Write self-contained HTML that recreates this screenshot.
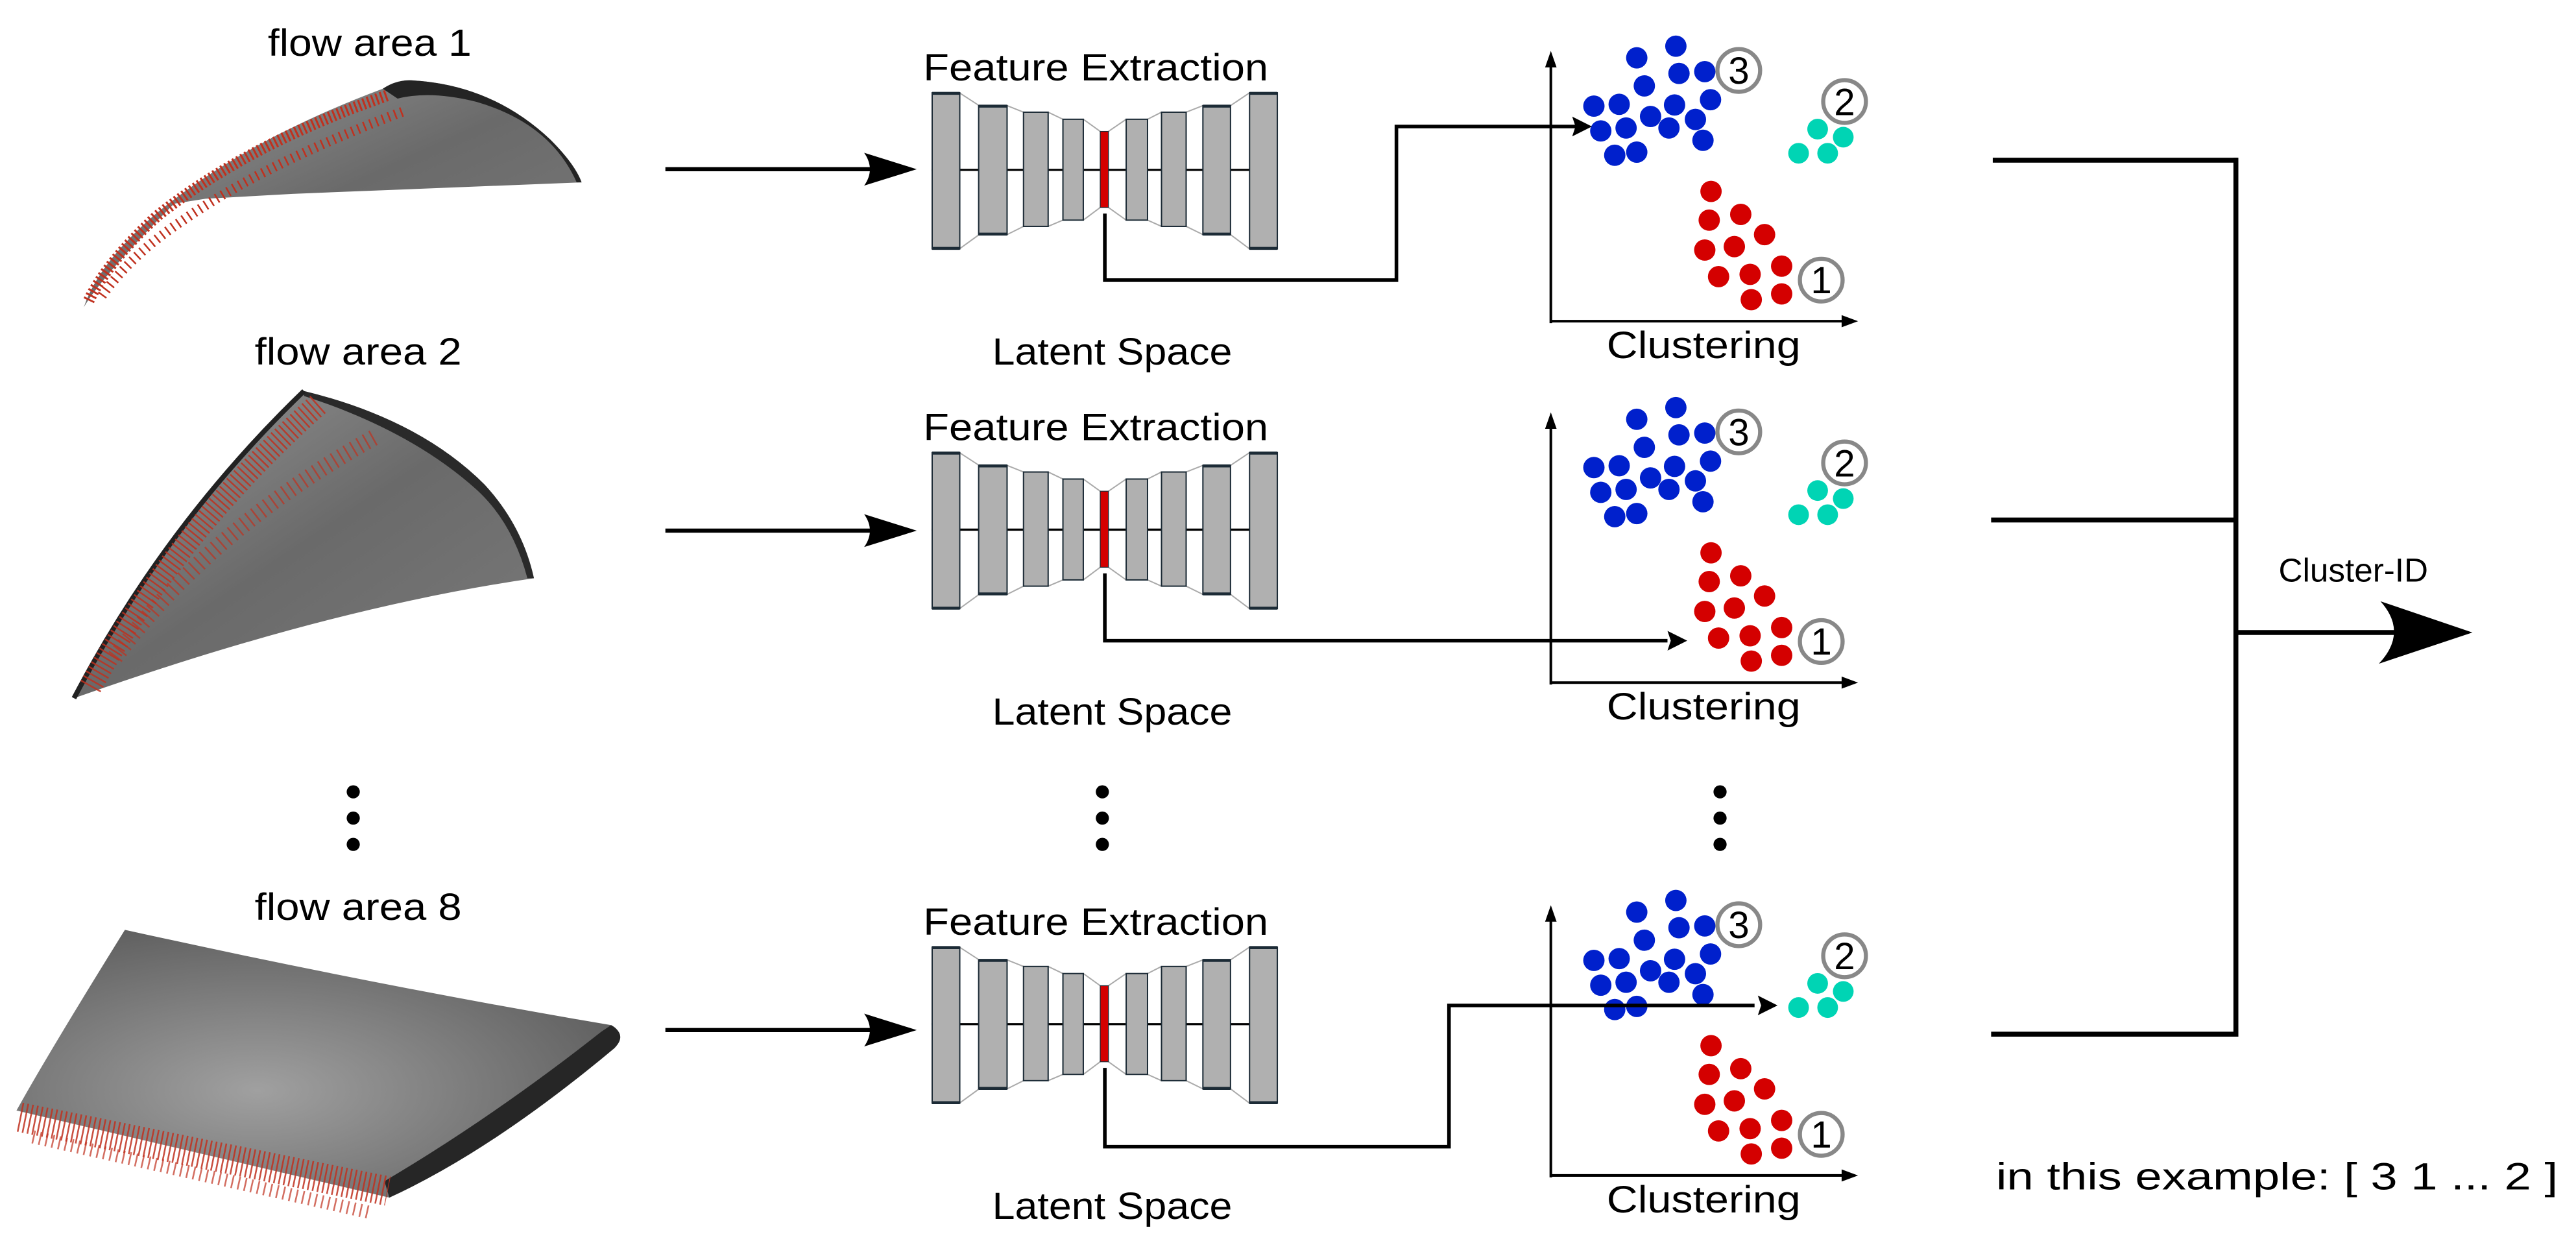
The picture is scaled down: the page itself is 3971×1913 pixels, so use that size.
<!DOCTYPE html>
<html><head><meta charset="utf-8"><style>html,body{margin:0;padding:0;background:#fff}svg{display:block}text{font-family:"Liberation Sans",sans-serif;fill:#000}</style></head>
<body>
<svg width="3971" height="1913" viewBox="0 0 1568 755.4" xmlns="http://www.w3.org/2000/svg">
<defs>
<linearGradient id="bg1" x1="0" y1="0" x2="1" y2="1"><stop offset="0" stop-color="#9a9a9a"/><stop offset="0.5" stop-color="#6a6a6a"/><stop offset="1" stop-color="#7a7a7a"/></linearGradient>
<radialGradient id="bg8" cx="0.4" cy="0.6" r="0.7"><stop offset="0" stop-color="#a0a0a0"/><stop offset="1" stop-color="#5a5a5a"/></radialGradient>
<g id="enc">
<line x1="567" y1="103.4" x2="777" y2="103.4" stroke="#000" stroke-width="1.3"/>
<g stroke="#aaa" stroke-width="0.8" fill="none">
<line x1="584" y1="56.5" x2="596" y2="64.3"/><line x1="584" y1="151.5" x2="596" y2="142.8"/>
<line x1="613" y1="64.3" x2="623" y2="68.3"/><line x1="613" y1="142.8" x2="623" y2="137.8"/>
<line x1="638" y1="68.3" x2="647" y2="72.6"/><line x1="638" y1="137.8" x2="647" y2="134"/>
<line x1="659.4" y1="72.6" x2="669.7" y2="80"/><line x1="659.4" y1="134" x2="669.7" y2="126.3"/>
<line x1="674.7" y1="80" x2="685.5" y2="72.6"/><line x1="674.7" y1="126.3" x2="685.5" y2="134"/>
<line x1="698.5" y1="72.6" x2="707" y2="68.3"/><line x1="698.5" y1="134" x2="707" y2="137.8"/>
<line x1="722" y1="68.3" x2="732.2" y2="64.3"/><line x1="722" y1="137.8" x2="732.2" y2="142.8"/>
<line x1="749" y1="64.3" x2="760.6" y2="56.5"/><line x1="749" y1="142.8" x2="760.6" y2="151.5"/>
</g>
<g fill="#b0b0b0" stroke="#1c2b36" stroke-width="0.8">
<rect x="567.4" y="56.5" width="16.8" height="95"/>
<rect x="595.7" y="64.3" width="17.3" height="78.5"/>
<rect x="623" y="68.3" width="15" height="69.5"/>
<rect x="647" y="72.6" width="12.4" height="61.4"/>
<rect x="685.5" y="72.6" width="13" height="61.4"/>
<rect x="707" y="68.3" width="15" height="69.5"/>
<rect x="732.2" y="64.3" width="16.8" height="78.5"/>
<rect x="760.6" y="56.5" width="16.9" height="95"/>
</g>
<g stroke="#1c2b36" stroke-width="1.8">
<line x1="567.4" y1="56.8" x2="584.2" y2="56.8"/><line x1="567.4" y1="151.2" x2="584.2" y2="151.2"/>
<line x1="595.7" y1="64.6" x2="613" y2="64.6"/><line x1="595.7" y1="142.5" x2="613" y2="142.5"/>
<line x1="732.2" y1="64.6" x2="749" y2="64.6"/><line x1="732.2" y1="142.5" x2="749" y2="142.5"/>
<line x1="760.6" y1="56.8" x2="777.5" y2="56.8"/><line x1="760.6" y1="151.2" x2="777.5" y2="151.2"/>
</g>
<rect x="669.7" y="80" width="5" height="46.3" fill="#d40000" stroke="#1c2b36" stroke-width="0.5"/>
<text x="562" y="49" font-size="23" textLength="210" lengthAdjust="spacingAndGlyphs">Feature Extraction</text>
<text x="604" y="222" font-size="23" textLength="146" lengthAdjust="spacingAndGlyphs">Latent Space</text>
</g>
<g id="ax">
<line x1="944" y1="196.7" x2="944" y2="38" stroke="#000" stroke-width="1.6"/>
<path d="M944,31 L940.5,41 L947.5,41 Z"/>
<line x1="944" y1="195.5" x2="1124" y2="195.5" stroke="#000" stroke-width="1.6"/>
<path d="M1131,195.5 L1121,191.8 L1121,199.2 Z"/>
<text x="978" y="218" font-size="23" textLength="118" lengthAdjust="spacingAndGlyphs">Clustering</text>
</g>
<g id="dots">
<g fill="#0020cc">
<ellipse cx="996.3" cy="35.2" rx="6.5" ry="6.5"/><ellipse cx="1020.1" cy="28.1" rx="6.5" ry="6.5"/>
<ellipse cx="1022" cy="44.7" rx="6.5" ry="6.5"/><ellipse cx="1037.7" cy="43.6" rx="6.5" ry="6.5"/>
<ellipse cx="1000.9" cy="52.3" rx="6.5" ry="6.5"/><ellipse cx="970.2" cy="64.6" rx="6.5" ry="6.5"/>
<ellipse cx="985.6" cy="63.5" rx="6.5" ry="6.5"/><ellipse cx="1004.7" cy="70.9" rx="6.5" ry="6.5"/>
<ellipse cx="1019.3" cy="63.9" rx="6.5" ry="6.5"/><ellipse cx="1041.2" cy="60.7" rx="6.5" ry="6.5"/>
<ellipse cx="974.4" cy="79.7" rx="6.5" ry="6.5"/><ellipse cx="989.8" cy="77.9" rx="6.5" ry="6.5"/>
<ellipse cx="1015.9" cy="77.9" rx="6.5" ry="6.5"/><ellipse cx="1032" cy="72.7" rx="6.5" ry="6.5"/>
<ellipse cx="1036.6" cy="85.4" rx="6.5" ry="6.5"/><ellipse cx="982.9" cy="94.5" rx="6.5" ry="6.5"/>
<ellipse cx="996.3" cy="92.6" rx="6.5" ry="6.5"/>
</g>
<g fill="#00d4b4">
<circle cx="1106.4" cy="78.6" r="6.3"/><circle cx="1122" cy="83.5" r="6.3"/>
<circle cx="1094.8" cy="93.3" r="6.3"/><circle cx="1112.5" cy="93.3" r="6.3"/>
</g>
<g fill="#d40000">
<circle cx="1041.5" cy="116.5" r="6.5"/><circle cx="1059.6" cy="130.5" r="6.5"/>
<circle cx="1040.4" cy="134" r="6.5"/><circle cx="1074.1" cy="142.8" r="6.5"/>
<circle cx="1037.7" cy="152.2" r="6.5"/><circle cx="1055.7" cy="150.1" r="6.5"/>
<circle cx="1084.5" cy="162" r="6.5"/><circle cx="1046.1" cy="168.4" r="6.5"/>
<circle cx="1065.3" cy="167" r="6.5"/><circle cx="1084.5" cy="178.9" r="6.5"/>
<circle cx="1066" cy="182.4" r="6.5"/>
</g>
<g fill="#fff" stroke="#888" stroke-width="2.5">
<circle cx="1058.4" cy="42.9" r="13"/><circle cx="1122.8" cy="61.8" r="13"/><circle cx="1108.6" cy="170.5" r="13"/>
</g>
<g font-size="23" text-anchor="middle">
<text x="1058.4" y="51">3</text><text x="1122.8" y="70">2</text><text x="1108.6" y="178.5">1</text>
</g>
</g>
<g id="arr">
<line x1="405" y1="103" x2="535" y2="103" stroke="#000" stroke-width="2.5"/>
<path d="M558,103 L526,93 Q533,103 526,113 Z"/>
</g>
</defs>

<!-- blades -->
<text x="163" y="34" font-size="23" textLength="124" lengthAdjust="spacingAndGlyphs">flow area 1</text>
<path d="M233,54 Q242,48 252,49 Q300,52 335,85 Q350,100 354,111 L178,118 L125,121 L106,124 Q80,150 65,168 Q55,180 51,187 Q60,160 95,130 Q150,85 233,54 Z" fill="url(#bg1)"/>
<path d="M233,54 Q242,48 252,49 Q300,52 335,85 Q350,100 354,111 L351,111 Q335,75 290,62 Q262,55 242,60 Z" fill="#242424"/>
<path d="M54,183 Q65,160 95,132 Q150,88 236,58" fill="none" stroke="#c0301e" stroke-width="7" stroke-dasharray="1.2 1.6"/>
<path d="M62,180 Q80,155 110,135 Q160,100 245,68" fill="none" stroke="#c0301e" stroke-width="6" stroke-dasharray="1 3"/>

<text x="155" y="222" font-size="23" textLength="126" lengthAdjust="spacingAndGlyphs">flow area 2</text>
<path d="M185,238 Q255,255 295,295 Q318,320 325,352 Q200,370 45,425 Q100,320 185,238 Z" fill="url(#bg1)"/>
<path d="M185,238 Q255,255 295,295 Q318,320 325,352 L321,352 Q312,318 290,298 Q250,262 185,241 Z" fill="#2a2a2a"/>
<path d="M45,425 Q100,320 185,238" fill="none" stroke="#222" stroke-width="3"/>
<path d="M55,418 Q110,320 195,245" fill="none" stroke="#c0301e" stroke-width="14" stroke-dasharray="1 2.2" opacity="0.85"/>
<path d="M70,400 Q130,320 230,265" fill="none" stroke="#c0301e" stroke-width="10" stroke-dasharray="1 3.5" opacity="0.7"/>

<text x="155" y="560" font-size="23" textLength="126" lengthAdjust="spacingAndGlyphs">flow area 8</text>
<path d="M76,566 Q230,600 372,624 Q380,628 374,636 Q300,690 237,729 L10,676 Q30,640 76,566 Z" fill="url(#bg8)"/>
<path d="M372,624 Q382,630 374,638 Q300,700 237,729 L234,719 Q300,680 366,628 Z" fill="#262626"/>
<path d="M12,680 L236,725" fill="none" stroke="#c0301e" stroke-width="18" stroke-dasharray="1 2" opacity="0.85"/>
<path d="M20,692 L225,738" fill="none" stroke="#c0301e" stroke-width="8" stroke-dasharray="1 3" opacity="0.7"/>

<g fill="#000"><circle cx="215" cy="482" r="4"/><circle cx="215" cy="498" r="4"/><circle cx="215" cy="514" r="4"/>
<circle cx="671" cy="482" r="4"/><circle cx="671" cy="498" r="4"/><circle cx="671" cy="514" r="4"/>
<circle cx="1047" cy="482" r="4"/><circle cx="1047" cy="498" r="4"/><circle cx="1047" cy="514" r="4"/></g>

<use href="#arr"/><use href="#arr" y="220"/><use href="#arr" y="524"/>
<use href="#enc"/><use href="#enc" y="219"/><use href="#enc" y="520"/>
<use href="#ax"/><use href="#ax" y="220"/><use href="#ax" y="520"/>
<use href="#dots"/><use href="#dots" y="220"/><use href="#dots" y="520"/>

<!-- connectors -->
<g fill="none" stroke="#000" stroke-width="2.2">
<polyline points="672.5,130 672.5,170.5 850,170.5 850,77 960,77"/>
<polyline points="672.5,349 672.5,390 1015,390"/>
<polyline points="672.5,650 672.5,698 882,698 882,612 1068,612"/>
</g>
<path d="M969,77 L957,71 L959,77 L957,83 Z"/>
<path d="M1027,390 L1015,384 L1017,390 L1015,396 Z"/>
<path d="M1082,612 L1070,606 L1072,612 L1070,618 Z"/>

<!-- bracket -->
<g fill="none" stroke="#000" stroke-width="3">
<line x1="1213" y1="97.5" x2="1362" y2="97.5"/>
<line x1="1212" y1="316.5" x2="1362" y2="316.5"/>
<line x1="1212" y1="629.5" x2="1362" y2="629.5"/>
<line x1="1361" y1="96" x2="1361" y2="631"/>
<line x1="1361" y1="385" x2="1460" y2="385"/>
</g>
<path d="M1505,385 L1449,366 Q1466,385 1448,404 Z"/>
<text x="1387" y="354" font-size="20" textLength="91" lengthAdjust="spacingAndGlyphs">Cluster-ID</text>
<text x="1215" y="724" font-size="23" textLength="342" lengthAdjust="spacingAndGlyphs">in this example: [ 3 1 ... 2 ]</text>
</svg>
</body></html>
